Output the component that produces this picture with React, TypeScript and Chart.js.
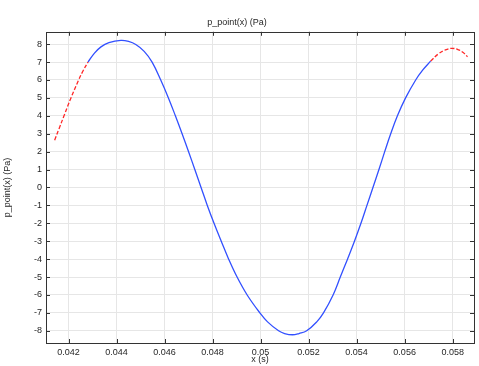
import React, { useEffect, useRef } from "react";
import { Chart, registerables } from "chart.js";

Chart.register(...registerables);

// ---- data ----
const redStartX = [0.04142, 0.0416, 0.04181, 0.0421, 0.04242, 0.0426, 0.04281];
const redStartY = [2.64, 3.27, 4.0, 5.0, 6.0, 6.5, 7.0];

const blueX = [
  0.04281, 0.04308, 0.04335, 0.04368, 0.04418, 0.0445, 0.0448, 0.04515, 0.04548,
  0.04584, 0.04616, 0.04645, 0.04673, 0.047, 0.04726, 0.04752, 0.04778,
  0.04806, 0.04836, 0.04867, 0.04902, 0.04944, 0.04997, 0.05029, 0.05075,
  0.051, 0.05133, 0.0516, 0.05192, 0.05234, 0.05262, 0.05302, 0.05332,
  0.05362, 0.05391, 0.05418, 0.05443, 0.05468, 0.05493, 0.05517, 0.05542, 0.0557,
  0.05604, 0.05646, 0.05675, 0.05708,
];
const blueY = [
  7.0, 7.5, 7.85, 8.08, 8.21, 8.15, 7.98, 7.6, 7.0,
  6.0, 5.0, 4.0, 3.0, 2.0, 1.0, 0.0, -1.0,
  -2.0, -3.0, -4.0, -5.0, -6.0, -7.0, -7.5, -8.0,
  -8.15, -8.22, -8.15, -8.0, -7.5, -7.0, -6.0, -5.0,
  -4.0, -3.0, -2.0, -1.0, 0.0, 1.0, 2.0, 3.0, 4.0,
  5.0, 6.0, 6.55, 7.05,
];

const redEndX = [0.05708, 0.0574, 0.0577, 0.05797, 0.05825, 0.05845, 0.05862];
const redEndY = [7.05, 7.45, 7.68, 7.77, 7.68, 7.52, 7.3];

const xTicks = [0.042, 0.044, 0.046, 0.048, 0.05, 0.052, 0.054, 0.056, 0.058];
const yTicks = [-8, -7, -6, -5, -4, -3, -2, -1, 0, 1, 2, 3, 4, 5, 6, 7, 8];

const titleText = "p_point(x) (Pa)";
const xTitle = "x (s)";
const yTitle = "p_point(x) (Pa)";

const FONT = "'Liberation Sans', Arial, sans-serif";
const TEXT = "#262626";

const toPts = (xs: number[], ys: number[]) => xs.map((x, i) => ({ x, y: ys[i] }));

const framePlugin = {
  id: "frameTicks",
  afterDraw(chart: any) {
    const { ctx, chartArea } = chart;
    const { left, right, top, bottom } = chartArea;
    const xs = chart.scales.x;
    const ys = chart.scales.y;
    const L = 4;
    ctx.save();
    ctx.strokeStyle = "#333";
    ctx.lineWidth = 1;
    ctx.beginPath();
    xTicks.forEach((v) => {
      const p = Math.round(xs.getPixelForValue(v)) + 0.5;
      ctx.moveTo(p, bottom);
      ctx.lineTo(p, bottom - L);
      ctx.moveTo(p, top);
      ctx.lineTo(p, top + L);
    });
    yTicks.forEach((v) => {
      const p = Math.round(ys.getPixelForValue(v)) + 0.5;
      ctx.moveTo(left, p);
      ctx.lineTo(left + L, p);
      ctx.moveTo(right, p);
      ctx.lineTo(right - L, p);
    });
    ctx.stroke();
    ctx.strokeRect(
      Math.round(left) + 0.5,
      Math.round(top) + 0.5,
      Math.round(right - left),
      Math.round(bottom - top)
    );
    ctx.restore();
  },
};

export default function App() {
  const ref = useRef<HTMLCanvasElement>(null);

  useEffect(() => {
    document.body.style.margin = "0";
    const canvas = ref.current!;
    const common = {
      borderWidth: 1.3,
      pointRadius: 0,
      tension: 0.4,
      fill: false,
    };
    const chart = new Chart(canvas, {
      type: "line",
      data: {
        datasets: [
          {
            ...common,
            data: toPts(redStartX, redStartY),
            borderColor: "rgb(255,40,40)",
            borderDash: [4, 2],
          },
          {
            ...common,
            data: toPts(blueX, blueY),
            borderColor: "rgb(50,80,255)",
          },
          {
            ...common,
            data: toPts(redEndX, redEndY),
            borderColor: "rgb(255,40,40)",
            borderDash: [4, 2],
          },
        ],
      },
      options: {
        responsive: false,
        animation: false,
        layout: { padding: { left: 0, right: 5, top: 0, bottom: 0 } },
        plugins: {
          legend: { display: false },
          tooltip: { enabled: false },
          title: {
            display: true,
            text: titleText,
            color: TEXT,
            font: { family: FONT, size: 9, weight: "normal" },
            padding: { top: 17, bottom: 4 },
          },
        },
        scales: {
          x: {
            type: "linear",
            min: 0.04106,
            max: 0.05889,
            afterBuildTicks: (s: any) => {
              s.ticks = xTicks.map((v) => ({ value: v }));
            },
            afterFit: (s: any) => {
              s.height = 23;
            },
            ticks: {
              color: TEXT,
              font: { family: FONT, size: 9 },
              padding: 4,
              maxRotation: 0,
              autoSkip: false,
              callback: (v: any) => String(parseFloat(Number(v).toFixed(4))),
            },
            grid: { color: "#e6e6e6", drawTicks: false },
            border: { display: false },
            title: {
              display: true,
              text: xTitle,
              color: TEXT,
              font: { family: FONT, size: 9 },
              padding: { top: 0, bottom: 1 },
            },
          },
          y: {
            type: "linear",
            min: -8.68,
            max: 8.69,
            afterBuildTicks: (s: any) => {
              s.ticks = yTicks.map((v) => ({ value: v }));
            },
            afterFit: (s: any) => {
              s.width = 46;
            },
            ticks: {
              color: TEXT,
              font: { family: FONT, size: 9 },
              padding: 4,
              autoSkip: false,
              callback: (v: any) => String(v),
            },
            grid: { color: "#e6e6e6", drawTicks: false },
            border: { display: false },
            title: {
              display: true,
              text: yTitle,
              color: TEXT,
              font: { family: FONT, size: 9 },
              padding: { top: 2, bottom: 0 },
            },
          },
        },
      },
      plugins: [framePlugin],
    } as any);
    return () => chart.destroy();
  }, []);

  return (
    <div style={{ position: "fixed", left: 0, top: 0, width: 479, height: 366 }}>
      <canvas ref={ref} width={479} height={366} />
    </div>
  );
}
